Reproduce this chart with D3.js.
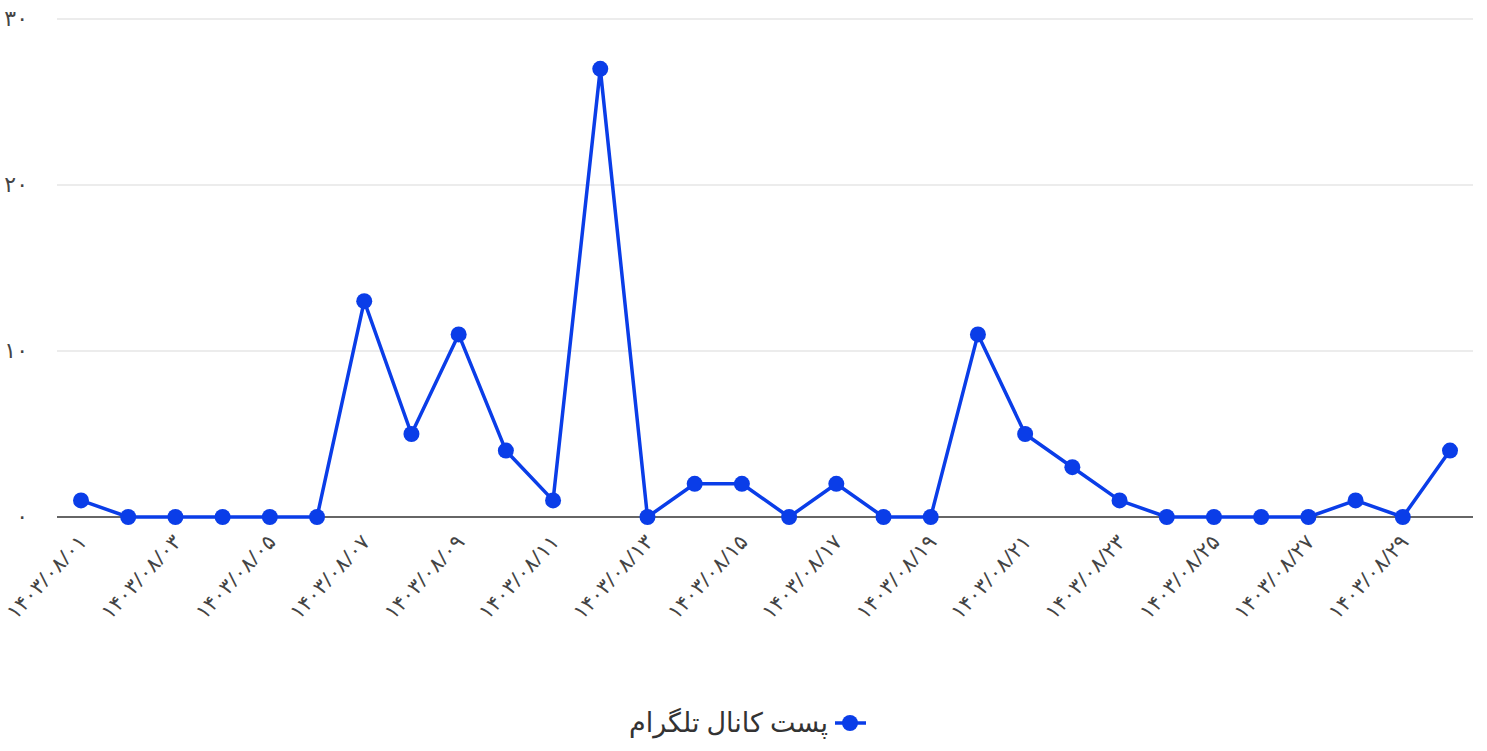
<!DOCTYPE html>
<html><head><meta charset="utf-8">
<script src="https://cdn.jsdelivr.net/npm/d3@7/dist/d3.min.js"></script>
<style>body{margin:0;background:#fff}svg{display:block}text{font-family:"Noto Sans","DejaVu Sans",sans-serif}</style>
</head><body><svg id="c" width="1487" height="751"></svg>
<script>
const categories = ["۱۴۰۳/۰۸/۰۱","۱۴۰۳/۰۸/۰۲","۱۴۰۳/۰۸/۰۳","۱۴۰۳/۰۸/۰۴","۱۴۰۳/۰۸/۰۵","۱۴۰۳/۰۸/۰۶","۱۴۰۳/۰۸/۰۷","۱۴۰۳/۰۸/۰۸","۱۴۰۳/۰۸/۰۹","۱۴۰۳/۰۸/۱۰","۱۴۰۳/۰۸/۱۱","۱۴۰۳/۰۸/۱۲","۱۴۰۳/۰۸/۱۳","۱۴۰۳/۰۸/۱۴","۱۴۰۳/۰۸/۱۵","۱۴۰۳/۰۸/۱۶","۱۴۰۳/۰۸/۱۷","۱۴۰۳/۰۸/۱۸","۱۴۰۳/۰۸/۱۹","۱۴۰۳/۰۸/۲۰","۱۴۰۳/۰۸/۲۱","۱۴۰۳/۰۸/۲۲","۱۴۰۳/۰۸/۲۳","۱۴۰۳/۰۸/۲۴","۱۴۰۳/۰۸/۲۵","۱۴۰۳/۰۸/۲۶","۱۴۰۳/۰۸/۲۷","۱۴۰۳/۰۸/۲۸","۱۴۰۳/۰۸/۲۹","۱۴۰۳/۰۸/۳۰"];
const values = [1,0,0,0,0,0,13,5,11,4,1,27,0,2,2,0,2,0,0,11,5,3,1,0,0,0,0,1,0,4];
const yTicks = [0,10,20,30];
const yTickLabels = ["۰","۱۰","۲۰","۳۰"];
const seriesName = "پست کانال تلگرام";
const color = "#0a3de8";

const svg = d3.select("#c");
const x = d3.scalePoint().domain(categories).range([81,1450]);
const y = d3.scaleLinear().domain([0,30]).range([517,19]);

svg.append("g").selectAll("line").data(yTicks.filter(d=>d>0)).join("line")
  .attr("x1",57).attr("x2",1473).attr("y1",d=>y(d)).attr("y2",d=>y(d))
  .attr("stroke","#e6e6e6").attr("stroke-width",1.5);
svg.append("line").attr("x1",57).attr("x2",1473).attr("y1",y(0)).attr("y2",y(0))
  .attr("stroke","#333").attr("stroke-width",1.5);

svg.append("g").selectAll("text").data(yTicks).join("text")
  .attr("x",28).attr("y",d=>y(d)+7).attr("text-anchor","end")
  .attr("font-size",22).attr("fill","#444").text((d,i)=>yTickLabels[i]);

svg.append("g").selectAll("text").data(categories.filter((d,i)=>i%2===0)).join("text")
  .attr("transform",d=>`translate(${x(d)+7},${y(0)+26}) rotate(-47)`)
  .attr("text-anchor","end").attr("font-size",21).attr("fill","#444")
  .text(d=>d);

const line = d3.line().x((d,i)=>x(categories[i])).y(d=>y(d));
svg.append("path").datum(values).attr("d",line).attr("fill","none")
  .attr("stroke",color).attr("stroke-width",3.5).attr("stroke-linejoin","round");
svg.append("g").selectAll("circle").data(values).join("circle")
  .attr("cx",(d,i)=>x(categories[i])).attr("cy",d=>y(d)).attr("r",8).attr("fill",color);

svg.append("line").attr("x1",835).attr("x2",866).attr("y1",723).attr("y2",723).attr("stroke",color).attr("stroke-width",3.5);
svg.append("circle").attr("cx",850).attr("cy",723).attr("r",8).attr("fill",color);
svg.append("text").attr("x",828).attr("y",732).attr("text-anchor","end")
  .attr("font-size",27).attr("fill","#333").text(seriesName);
</script></body></html>
